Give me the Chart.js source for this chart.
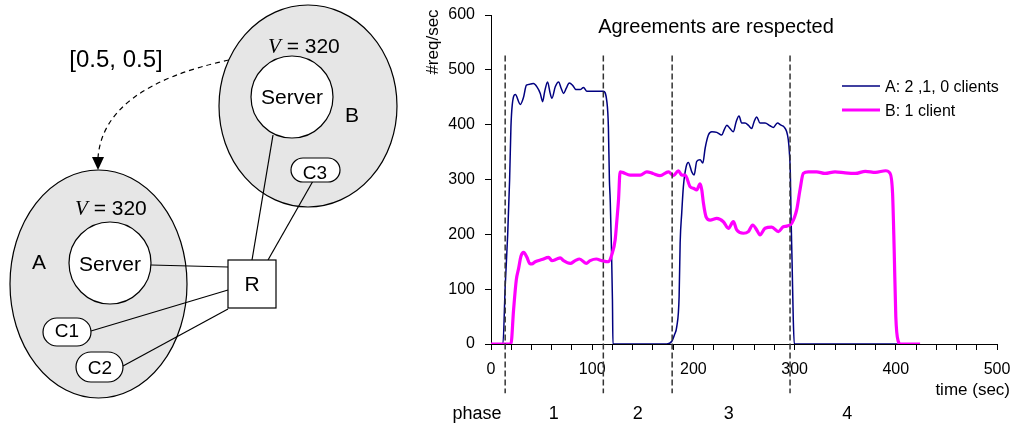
<!DOCTYPE html>
<html>
<head>
<meta charset="utf-8">
<script src="https://cdn.jsdelivr.net/npm/chart.js@4.4.0/dist/chart.umd.min.js"></script>
<style>
  body { margin: 0; background: #fff; }
  #wrap { position: relative; width: 1014px; height: 425px; }
  #reqChart { position: absolute; left: 0; top: 0; }
  #diagram { position: absolute; left: 0; top: 0; }
</style>
</head>
<body>
<div id="wrap">
<canvas id="reqChart" width="1014" height="425"></canvas>
<svg id="diagram" width="430" height="425" font-family="'Liberation Sans', Arial, sans-serif">
  <ellipse cx="308" cy="106" rx="89" ry="101" fill="#e6e6e6" stroke="#000" stroke-width="1.2"/>
  <ellipse cx="98.5" cy="284" rx="88.5" ry="114" fill="#e6e6e6" stroke="#000" stroke-width="1.2"/>
  <g stroke="#000" stroke-width="1.2">
    <line x1="151" y1="265" x2="228" y2="267"/>
    <line x1="91" y1="331" x2="228" y2="290"/>
    <line x1="123" y1="366" x2="228" y2="309"/>
    <line x1="252" y1="260" x2="273" y2="135"/>
    <line x1="268" y1="260" x2="313" y2="181"/>
  </g>
  <circle cx="292" cy="97" r="41" fill="#fff" stroke="#000" stroke-width="1.2"/>
  <circle cx="110" cy="263" r="41" fill="#fff" stroke="#000" stroke-width="1.2"/>
  <rect x="228" y="260" width="48" height="48" fill="#fff" stroke="#000" stroke-width="1.2"/>
  <rect x="43" y="318" width="48" height="28" rx="14" fill="#fff" stroke="#000" stroke-width="1.2"/>
  <rect x="76" y="352" width="47" height="30" rx="15" fill="#fff" stroke="#000" stroke-width="1.2"/>
  <rect x="291" y="158" width="49" height="24" rx="12" fill="#fff" stroke="#000" stroke-width="1.2"/>
  <path d="M229,60 Q103,87 98,158" fill="none" stroke="#000" stroke-width="1.2" stroke-dasharray="5,4"/>
  <polygon points="92,157 104,157 98,170" fill="#000"/>
  <g font-size="21" fill="#000">
    <text x="116" y="67" font-size="24" text-anchor="middle">[0.5, 0.5]</text>
    <text x="268" y="53"><tspan font-family="'Liberation Serif', serif" font-style="italic">V</tspan> = 320</text>
    <text x="75" y="215"><tspan font-family="'Liberation Serif', serif" font-style="italic">V</tspan> = 320</text>
    <text x="292" y="104" text-anchor="middle">Server</text>
    <text x="110" y="271" text-anchor="middle">Server</text>
    <text x="39" y="269" text-anchor="middle">A</text>
    <text x="352" y="122" text-anchor="middle">B</text>
    <text x="252" y="291" text-anchor="middle">R</text>
    <text x="67" y="337" font-size="19" text-anchor="middle">C1</text>
    <text x="100" y="374" font-size="19" text-anchor="middle">C2</text>
    <text x="315" y="179" font-size="19" text-anchor="middle">C3</text>
  </g>
</svg>
</div>
<script>
// series A: 2,1,0 clients (time in sec, #req/sec)
const timeA = [0, 11.8, 14, 16.5, 18.4, 19.7, 21, 24, 29, 32,
  35, 39, 42, 45.4, 48.7, 51, 53, 55.9, 58.5, 60.2,
  63.5, 66.8, 69.4, 71.7, 74.3, 77.3, 80.6, 83.9, 88.2, 91.4,
  94.8, 98, 111, 114.5, 116, 117, 117.8, 120, 120.5, 150,
  173.7, 178.7, 181.3, 183.6, 185.9, 186.9, 188.5, 190.1, 192.8, 195,
  198.4, 200.7, 203.3, 206.6, 209.3, 211.6, 214.8, 218.2, 223.1, 228,
  230.3, 233, 236.2, 239.5, 242.2, 245.1, 247.7, 251, 254.3, 257.6,
  259.9, 262.6, 265.8, 270.8, 275.7, 279, 283, 286.6, 289.5, 292.2,
  293.8, 294.8, 295.8, 296.5, 297.5, 298.7, 299.7, 350, 402];
const reqA = [0, 0, 104, 200, 300, 396, 436, 455, 437, 449,
  472, 474, 475, 469, 457, 442, 460, 478, 457, 448,
  469, 478, 466, 457, 466, 476, 472, 464, 464, 468,
  461, 461, 461, 442, 396, 299, 263, 81, 0, 0,
  0, 5, 17, 32, 87, 184, 240, 287, 323, 331,
  314, 308, 333, 336, 330, 357, 381, 387, 386, 381,
  390, 399, 393, 387, 405, 416, 403, 403, 399, 393,
  405, 414, 403, 403, 398, 395, 403, 399, 396, 387,
  372, 351, 311, 232, 150, 44, 0, 0, 0];

// series B: 1 client
const timeB = [0, 19.7, 22.3, 25, 27.3, 29.6, 32.2, 35.5, 38.1, 40.4,
  43.7, 50.3, 56.9, 60.2, 65.1, 68.4, 71.7, 78.3, 83.2, 87.5,
  94.1, 98, 104, 109.6, 116.1, 119.4, 122.7, 124.4, 126, 127.6,
  130, 137.5, 147.4, 154, 160, 167, 175.3, 180.3, 185.2, 188.5,
  191.8, 196.7, 200, 203.3, 206.6, 208.3, 209.9, 212.5, 216.5, 223.1,
  229.6, 234.6, 239.5, 242.8, 249.4, 254.3, 258.6, 262.6, 265.8, 270.8,
  277.4, 284, 288.8, 292.2, 297.1, 302.1, 305.3, 308.6, 313.6, 321.8,
  330, 340, 350, 360, 370, 380, 390, 394, 396.8, 398.4,
  400, 402.4, 404.7, 424];
const reqB = [0, 0, 62, 117, 138, 160, 167, 158, 147, 146,
  150, 154, 158, 152, 155, 157, 152, 147, 152, 155,
  147, 152, 155, 152, 150, 163, 190, 226, 263, 314,
  313, 308, 308, 314, 311, 307, 314, 307, 316, 308,
  308, 287, 284, 281, 292, 281, 257, 232, 226, 229,
  223, 211, 223, 208, 202, 205, 217, 208, 199, 211,
  213, 205, 214, 215, 220, 245, 281, 311, 314, 314,
  311, 314, 312, 311, 315, 313, 316, 312, 275, 172,
  50, 5, 0, 0];

const seriesNames = ['A: 2 ,1, 0 clients', 'B: 1 client'];
const phaseBounds = [14, 111, 179, 295.5];
const phaseCenters = [62, 145, 235, 352];
const phaseLabels = ['1', '2', '3', '4'];

const font = "'Liberation Sans', Arial, sans-serif";

function pts(xs, ys) {
    return xs.map((x, i) => ({ x: x, y: ys[i] }));
}

const datasets = [
    {
        label: seriesNames[0],
        data: pts(timeA, reqA),
        borderColor: '#000080',
        borderWidth: 1.5,
        cubicInterpolationMode: 'monotone',
        order: 1
    },
    {
        label: seriesNames[1],
        data: pts(timeB, reqB),
        borderColor: '#ff00ff',
        borderWidth: 3.2,
        cubicInterpolationMode: 'monotone',
        order: 0
    }
];
phaseBounds.forEach(b => {
    datasets.push({
        label: 'phase',
        data: [{ x: b, y: 526 }, { x: b, y: -90 }],
        borderColor: '#333',
        borderWidth: 1.5,
        borderDash: [6, 3],
        clip: false,
        order: -1
    });
});

// titles, legend and phase row
const annotations = {
    id: 'annotations',
    afterDraw(chart) {
        const ctx = chart.ctx;
        const x = chart.scales.x;
        ctx.save();
        ctx.fillStyle = '#000';
        ctx.textBaseline = 'alphabetic';

        ctx.font = '20px ' + font;
        ctx.textAlign = 'center';
        ctx.fillText('Agreements are respected', 716, 33);

        ctx.font = '17px ' + font;
        ctx.textAlign = 'right';
        ctx.fillText('time (sec)', 1010, 395);

        ctx.font = '18px ' + font;
        ctx.textAlign = 'center';
        ctx.fillText('phase', 477, 419);
        phaseLabels.forEach((p, i) => {
            ctx.fillText(p, x.getPixelForValue(phaseCenters[i]), 419);
        });

        ctx.save();
        ctx.translate(438, 42);
        ctx.rotate(-Math.PI / 2);
        ctx.font = '17px ' + font;
        ctx.textAlign = 'center';
        ctx.fillText('#req/sec', 0, 0);
        ctx.restore();

        // legend
        ctx.font = '16px ' + font;
        ctx.textAlign = 'left';
        [86, 110].forEach((ly, i) => {
            const ds = chart.data.datasets[i];
            ctx.strokeStyle = ds.borderColor;
            ctx.lineWidth = ds.borderWidth;
            ctx.beginPath();
            ctx.moveTo(842, ly);
            ctx.lineTo(880, ly);
            ctx.stroke();
            ctx.fillText(seriesNames[i], 885, ly + 6);
        });
        ctx.restore();
    }
};

function noPad(s) {
    s.paddingLeft = 0;
    s.paddingRight = 0;
    s.paddingTop = 0;
    s.paddingBottom = 0;
}

new Chart(document.getElementById('reqChart'), {
    type: 'line',
    data: { datasets: datasets },
    options: {
        responsive: false,
        animation: false,
        events: [],
        layout: { padding: { left: 431, right: 17, top: 15, bottom: 41 } },
        elements: { point: { radius: 0 }, line: { tension: 0 } },
        plugins: { legend: { display: false }, tooltip: { enabled: false } },
        scales: {
            x: {
                type: 'linear',
                min: 0,
                max: 500,
                afterFit: s => { s.height = 40; noPad(s); },
                grid: { drawOnChartArea: false, tickLength: 6, color: '#000' },
                border: { color: '#000', width: 1 },
                ticks: {
                    stepSize: 20,
                    autoSkip: false,
                    maxRotation: 0,
                    padding: 10,
                    color: '#000',
                    font: { family: font, size: 16 },
                    callback: v => (v % 100 === 0 ? v : '')
                }
            },
            y: {
                min: 0,
                max: 600,
                afterFit: s => { s.width = 60; noPad(s); },
                grid: { drawOnChartArea: false, tickLength: 6, color: '#000' },
                border: { color: '#000', width: 1 },
                ticks: {
                    stepSize: 100,
                    padding: 10,
                    color: '#000',
                    font: { family: font, size: 16 }
                }
            }
        }
    },
    plugins: [annotations]
});
</script>
</body>
</html>
